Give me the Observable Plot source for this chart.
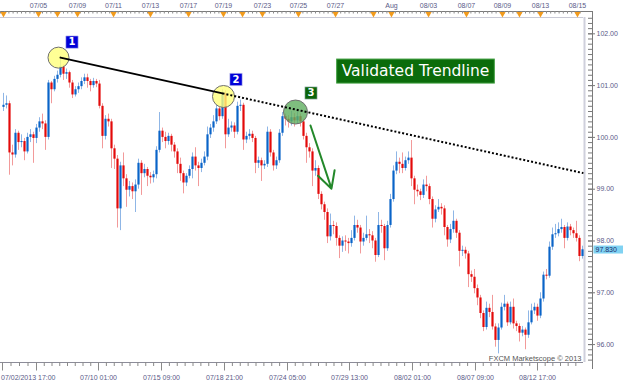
<!DOCTYPE html>
<html><head><meta charset="utf-8">
<script src="https://cdn.jsdelivr.net/npm/d3@7"></script>
<script src="https://cdn.jsdelivr.net/npm/@observablehq/plot@0.6"></script>
<style>html,body{margin:0;padding:0;background:#fff;overflow:hidden}</style>
</head><body><div id="chart"></div>
<script>
// ---------- data (4-hour candles) ----------
const firstOpen = 100.58;
const close = [
100.62,100.65,99.70,99.66,100.08,99.90,99.92,99.72,100.00,100.05,
99.98,100.18,100.30,100.26,100.00,101.05,100.92,101.12,101.20,101.36,
101.22,101.25,101.05,100.82,100.92,100.98,101.08,101.15,101.08,101.00,
101.08,101.03,100.60,100.02,100.35,100.30,99.78,99.58,98.62,99.45,
99.20,98.98,99.05,98.95,99.08,99.50,99.30,99.38,99.25,99.22,
99.28,99.75,100.12,100.00,99.92,100.02,99.85,99.72,99.48,99.30,
99.12,99.25,99.38,99.62,99.45,99.40,99.50,99.62,100.05,100.18,
100.30,100.55,100.40,100.84,100.05,100.18,100.22,100.10,100.60,100.62,
99.95,100.02,100.06,99.98,99.50,99.55,99.45,99.48,100.10,99.70,
99.45,99.55,100.08,100.40,100.35,100.30,100.38,100.32,100.40,100.30,
100.02,99.80,99.72,99.35,99.40,98.90,98.70,98.55,98.08,98.30,
98.28,98.05,97.90,98.00,97.98,97.95,98.05,98.30,98.25,97.98,
98.05,98.12,98.10,98.00,97.72,98.30,98.28,97.85,98.30,98.80,
99.35,99.52,99.48,99.40,99.55,99.60,99.20,98.98,98.95,98.88,
99.08,99.05,98.80,98.42,98.60,98.65,98.62,98.26,98.02,98.22,
98.38,98.15,97.80,97.82,97.75,97.35,97.30,97.08,96.90,96.60,
96.33,96.70,96.62,96.34,96.08,96.32,96.72,96.78,96.42,96.72,
96.40,96.35,96.22,96.28,96.18,96.42,96.65,96.72,96.55,96.88,
97.34,97.32,97.88,98.12,98.14,98.22,98.26,98.05,98.27,98.20,
98.14,98.05,97.70,97.83];
const high = [
100.85,100.80,100.70,99.85,100.15,100.12,100.05,99.98,100.08,100.15,
100.10,100.25,100.38,100.45,100.32,101.10,101.08,101.18,101.28,101.54,
101.40,101.32,101.28,101.10,100.98,101.05,101.15,101.22,101.22,101.12,
101.14,101.12,101.10,100.65,100.42,100.45,100.35,99.85,99.65,99.52,
99.70,99.28,99.15,99.12,99.18,99.58,99.55,99.48,99.42,99.32,
99.35,99.82,100.48,100.18,100.10,100.08,100.06,99.90,99.78,99.60,
99.35,99.30,99.45,99.70,99.80,99.52,99.58,99.72,100.20,100.25,
100.42,100.62,100.60,100.92,100.90,100.35,100.30,100.28,100.68,100.72,
100.66,100.10,100.15,100.12,100.02,99.62,99.60,99.55,100.20,100.15,
99.75,99.62,100.15,100.48,100.45,100.42,100.50,100.46,100.52,100.45,
100.35,100.08,99.88,99.78,99.55,99.45,98.95,98.75,98.62,98.52,
98.38,98.35,98.10,98.08,98.10,98.05,98.20,98.48,98.40,98.30,
98.15,98.48,98.22,98.18,98.05,98.55,98.40,98.32,98.38,98.90,
99.45,99.72,99.60,99.70,99.62,99.72,99.94,99.25,99.08,99.00,
99.18,99.25,99.10,98.85,98.68,98.80,98.72,98.68,98.30,98.32,
98.58,98.42,98.20,97.90,97.88,97.80,97.42,97.45,97.15,96.95,
96.65,96.82,96.78,96.95,96.40,96.40,96.80,96.95,96.82,96.82,
96.88,96.45,96.40,96.35,96.32,96.65,96.78,96.80,96.78,97.00,
97.40,97.45,97.98,98.25,98.32,98.35,98.42,98.30,98.35,98.32,
98.25,98.38,98.10,97.90];
const low = [
100.50,100.55,99.27,99.45,99.60,99.75,99.80,99.55,99.68,99.90,
99.50,99.88,100.10,100.15,99.75,99.95,100.65,100.88,101.05,101.15,
101.10,101.12,100.95,100.75,100.78,100.85,100.92,101.02,100.95,100.88,
100.95,100.96,100.55,99.78,99.95,100.20,99.40,99.38,98.25,98.20,
99.05,98.65,98.85,98.80,98.55,99.00,98.88,99.22,99.05,99.10,
99.12,99.20,99.70,99.90,99.78,99.85,99.72,99.60,99.30,99.15,
98.91,99.05,99.20,99.20,99.35,99.05,99.32,99.45,99.55,99.98,
100.10,100.25,100.32,100.35,99.78,100.00,100.10,99.98,100.05,100.50,
99.75,99.88,99.95,99.90,99.30,99.40,99.15,99.38,99.42,99.62,
99.35,99.38,99.50,100.02,100.22,100.18,100.22,100.20,100.25,100.20,
99.95,99.50,99.60,99.05,99.25,98.80,98.60,98.40,97.95,98.00,
98.12,97.90,97.66,97.78,97.80,97.75,97.88,98.00,98.15,97.75,
97.90,98.00,97.95,97.85,97.59,97.68,98.15,97.62,97.80,98.25,
98.75,99.28,99.30,99.30,99.35,99.48,99.05,98.70,98.85,98.78,
98.82,98.95,98.70,98.25,98.35,98.55,98.50,98.10,97.88,97.95,
98.15,98.05,97.50,97.70,97.65,97.10,97.20,96.98,96.75,96.50,
96.25,96.28,96.52,96.28,95.95,95.82,96.28,96.65,96.35,96.38,
96.30,96.25,96.05,96.15,95.90,96.12,96.38,96.58,96.45,96.50,
96.82,97.25,97.28,97.82,98.05,98.08,98.15,97.85,98.00,98.10,
98.05,97.98,97.60,97.65];

// trendline (candle index, price)
const trendIdx = [19, 73, 193.3];
const trendPrice = [101.54, 100.85, 99.31];
// touch points
const touchIdx = [18.33, 73.33, 97.33];
const touchPrice = [101.54, 100.79, 100.49];
const touchR = [10.5, 11, 12];
const touchFill = ["#ffff7a", "#ffff7a", "#5fae5f"];
// number labels
const numLabels = ["1", "2", "3"];
const numIdx = [22.83, 77.5, 102.5];
const numPrice = [101.84, 101.118, 100.857];
const numColors = ["#0000d8", "#0000d8", "#0a640a"];
// arrow
const arrowFrom = [102.33, 100.23];
const arrowTo = [109.33, 99.01];
// title box
const titleText = "Validated Trendline";
const titlePos = [137.33, 101.28];

// axis ticks / labels
const yTicks = [96, 97, 98, 99, 100, 101, 102];
const topLabels = ["07/05","07/09","07/11","07/13","07/17","07/19","07/23","07/25","07/27","Aug","08/03","08/07","08/09","08/13","08/15"];
const topLabelIdx = [11.67,24.67,36.67,49,61.67,73.33,86.33,98.33,110.67,129.33,141.67,154.33,166.33,179,191.33];
const topMarkIdx = [0,11.67,18,24.67,36.67,49,61.67,73.33,79.67,86.33,98.33,110.67,123.33,129.33,141.67,154.33,166.33,172,179,191.33];
const bottomLabels = ["07/02/2013 17:00","","07/10 01:00","07/15 09:00","07/18 21:00","07/24 05:00","07/29 13:00","08/02 01:00","08/07 09:00","08/12 17:00"];
const bottomIdx = [-0.33,11,31.67,52.67,73.67,94.67,115.33,136.33,157.33,178];
const watermark = "FXCM Marketscope © 2013";

// ---------- layout ----------
const W = 623, H = 383, mT = 17, mB = 21, mL = 0, mR = 40;
const xMin = -1, xMax = 193.333, yMin = 95.654, yMax = 102.315;
const pxToX = p => xMin + (p - mL) * (xMax - xMin) / (W - mL - mR);
const pxToY = p => yMax - (p - mT) * (yMax - yMin) / (H - mT - mB);

const candles = close.map((c, i) => {
  const o = i ? close[i - 1] : firstOpen;
  return {i, open: o, close: c, high: Math.max(high[i], o, c), low: Math.min(low[i], o, c)};
});
const up = d => d.close >= d.open;

const rightMinor = d3.range(957, 1024).map(d => d / 10);
const topMinor = d3.range(xMin, pxToX(583), 4.2 / 3);
const bottomMinor = [];
for (let k = 0; k < bottomIdx.length; k++) {
  const a = bottomIdx[k], b = k + 1 < bottomIdx.length ? bottomIdx[k + 1] : xMax;
  const n = Math.max(1, Math.round((b - a) * 3 / 7.8));
  for (let j = 1; j < n; j++) bottomMinor.push(a + j * (b - a) / n);
}

const axisColor = "#7a7a7a";
const labelColor = "#5a5a88";
const trend = trendIdx.map((x, k) => ({x, y: trendPrice[k]}));

const chart = Plot.plot({
  width: W, height: H,
  marginTop: mT, marginBottom: mB, marginLeft: mL, marginRight: mR,
  x: {domain: [xMin, xMax], axis: null},
  y: {domain: [yMin, yMax], axis: null},
  color: {type: "identity"},
  r: {type: "identity"},
  style: {fontFamily: "Liberation Sans, Arial, sans-serif", fontSize: "7px", background: "#fff", overflow: "visible"},
  marks: [
    // frame lines
    Plot.ruleY([yMax], {x1: xMin, x2: xMax, stroke: "#c9cad6"}),
    Plot.ruleX([xMax], {y1: yMin, y2: yMax, stroke: "#cfd0dc", strokeWidth: 2, dx: 1}),
    // top ruler
    Plot.ruleY([pxToY(11)], {x1: xMin, x2: pxToX(592), stroke: axisColor}),
    Plot.ruleX(topMinor, {y1: pxToY(11), y2: pxToY(13.5), stroke: "#8a8a8a"}),
    Plot.dot(topMarkIdx, {x: d => d, y: pxToY(13.3), symbol: "triangle", rotate: 180, r: 2.3, fill: "#f29b1d"}),
    Plot.text(topLabels, {x: (d, i) => topLabelIdx[i], y: pxToY(5.5), text: d => d, fill: labelColor}),
    // bottom ruler
    Plot.ruleY([yMin], {x1: xMin, x2: xMax, stroke: "#8c8c99"}),
    Plot.ruleX(bottomMinor, {y1: yMin, y2: pxToY(366), stroke: "#8a8a8a"}),
    Plot.ruleX(bottomIdx, {y1: yMin, y2: pxToY(370.5), stroke: "#8a8a8a"}),
    Plot.text(bottomLabels.slice(0, 1), {x: bottomIdx[0], y: pxToY(377), text: d => d, textAnchor: "start", dx: -1.5, fill: labelColor}),
    Plot.text(bottomLabels.slice(1), {x: (d, i) => bottomIdx[i + 1], y: pxToY(377), text: d => d, fill: labelColor}),
    // right axis
    Plot.ruleX([pxToX(592)], {y1: pxToY(11), y2: pxToY(369), stroke: axisColor}),
    Plot.ruleY(rightMinor, {x1: pxToX(588), x2: pxToX(592), stroke: axisColor}),
    Plot.ruleY(yTicks, {x1: pxToX(588), x2: pxToX(595), stroke: axisColor}),
    Plot.text(yTicks, {y: d => d, x: pxToX(596), text: d => d.toFixed(2), textAnchor: "start", fill: labelColor}),
    // candles
    Plot.ruleX(candles, {x: "i", y1: "low", y2: "high", stroke: d => up(d) ? "#8fb6e6" : "#f29a9a", strokeWidth: 1}),
    Plot.ruleX(candles, {x: "i", y1: "open", y2: "close", stroke: d => up(d) ? "#0a64c8" : "#e30a0a", strokeWidth: 2.2}),
    // touch circles
    Plot.dot(touchIdx, {x: d => d, y: (d, i) => touchPrice[i], r: (d, i) => touchR[i], fill: (d, i) => touchFill[i], fillOpacity: 0.8, stroke: "#6f6f6f", strokeWidth: 1}),
    // trendline
    Plot.line(trend.slice(0, 2), {x: "x", y: "y", stroke: "#000", strokeWidth: 2}),
    Plot.line(trend.slice(1), {x: "x", y: "y", stroke: "#000", strokeWidth: 2, strokeDasharray: "2,2", strokeLinecap: "butt"}),
    // arrow
    Plot.arrow([0], {x1: arrowFrom[0], y1: arrowFrom[1], x2: arrowTo[0], y2: arrowTo[1], stroke: "#23882a", strokeWidth: 2, headAngle: 56, headLength: 14}),
    // number boxes
    Plot.dot(numLabels, {x: (d, i) => numIdx[i], y: (d, i) => numPrice[i], symbol: "square", r: 7, fill: (d, i) => numColors[i], stroke: "#d8d8f0", strokeWidth: 0.6}),
    Plot.text(numLabels, {x: (d, i) => numIdx[i], y: (d, i) => numPrice[i], text: d => d, fill: "white", fontSize: 10, fontWeight: "bold", fontFamily: "DejaVu Sans"}),
    // title
    Plot.text([titleText], {x: titlePos[0], y: titlePos[1], text: d => d, fill: "white", fontSize: 15.5, fontFamily: "DejaVu Sans"}),
    // last price
    Plot.text([close[close.length - 1]], {y: d => d, x: pxToX(595), text: d => d.toFixed(3), textAnchor: "start", fill: "#1c2a6a"}),
    // watermark
    Plot.text([watermark], {x: pxToX(581), y: pxToY(358), text: d => d, textAnchor: "end", fill: "#555", fontSize: 7.5})
  ]
});
document.getElementById("chart").append(chart);

function addBox(txt, padL, padR, padY, fill, stroke) {
  for (const t of chart.querySelectorAll("text")) {
    if (t.textContent === txt) {
      const b = t.getBBox();
      const r = document.createElementNS("http://www.w3.org/2000/svg", "rect");
      r.setAttribute("x", b.x - padL);
      r.setAttribute("y", b.y - padY);
      r.setAttribute("width", b.width + padL + padR);
      r.setAttribute("height", b.height + 2 * padY);
      r.setAttribute("fill", fill);
      r.setAttribute("stroke", stroke);
      const tr = t.getAttribute("transform");
      if (tr) r.setAttribute("transform", tr);
      t.parentNode.insertBefore(r, t);
    }
  }
}
addBox(titleText, 5, 5, 3, "#0b6c0b", "#3f9f3f");
addBox(close[close.length - 1].toFixed(3), 2, 6, 0.5, "#80d2f2", "none");
</script></body></html>
